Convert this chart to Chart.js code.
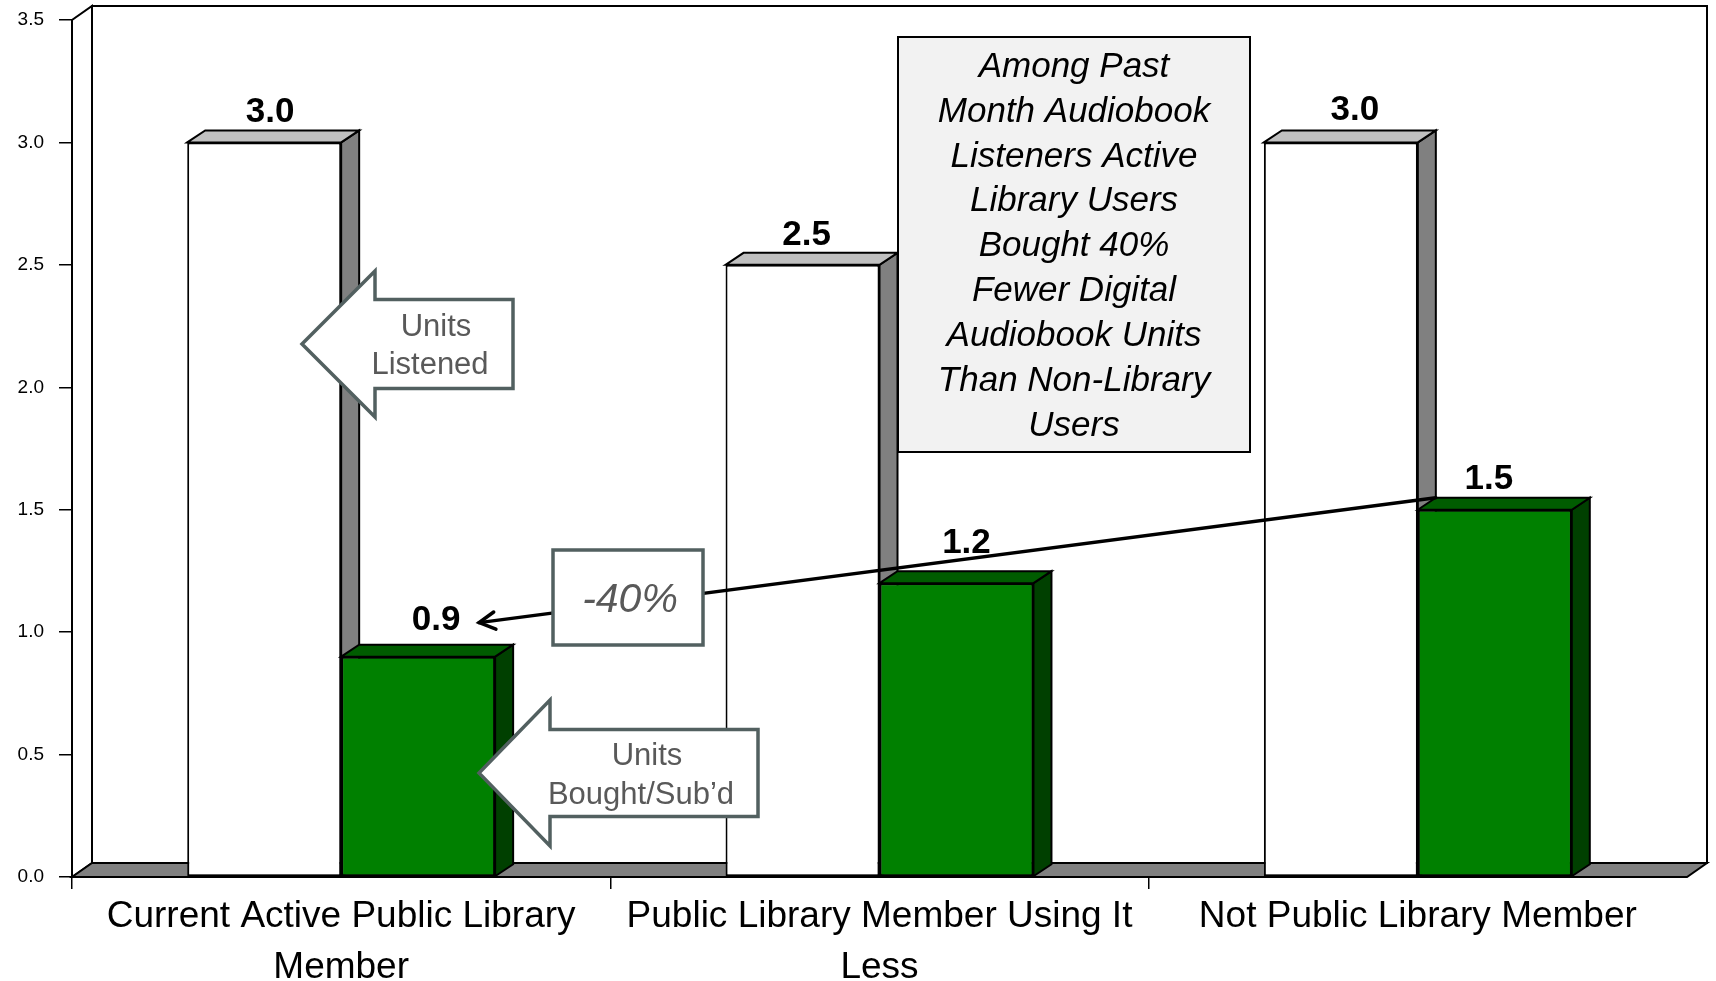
<!DOCTYPE html>
<html><head><meta charset="utf-8">
<script src="https://cdn.jsdelivr.net/npm/chart.js@4.4.1/dist/chart.umd.min.js"></script>
<style>html,body{margin:0;padding:0;overflow:hidden;background:#fff;}canvas{display:block;}</style>
</head><body>
<canvas id="c" width="1716" height="1000"></canvas>
<script>
// ---- data ----
const categories = [['Current Active Public Library', 'Member'], ['Public Library Member Using It', 'Less'], 'Not Public Library Member'];
const seriesNames = ['Units Listened', 'Units Bought/Sub\u2019d'];
const unitsListened = [3.0, 2.5, 3.0];
const unitsBought = [0.9, 1.2, 1.5];
const yTicks = [0, 0.5, 1.0, 1.5, 2.0, 2.5, 3.0, 3.5];
const noteLines = ['Among Past', 'Month Audiobook', 'Listeners Active', 'Library Users', 'Bought 40%', 'Fewer Digital', 'Audiobook Units', 'Than Non-Library', 'Users'];
const changeLabel = '-40%';
const calloutListened = ['Units', 'Listened'];
const calloutBought = ['Units', 'Bought/Sub\u2019d'];

// ---- styles / layout ----
const FONT = '"Liberation Sans", Arial, Helvetica, sans-serif';
const CANVAS_H = 1000;
const PLOT_TOP = 20;
const PLOT_BOTTOM = 877;
const DEPTH = { bx: 18, by: -12, wx: 20, wy: -14 };
const FACE = [
  { front: '#ffffff', side: '#808080', top: '#c0c0c0' },
  { front: '#008000', side: '#004000', top: '#005c00' }
];
const LABEL_NUDGE = [
  [[6, 20], [4, 20], [14, 22]],
  [[18, 27], [10, 30], [-6, 21]]
];
const CALLOUT_COLOR = '#526060';
const CALLOUT_TEXT = '#595959';

function poly(ctx, pts, fill, stroke, lw) {
  ctx.beginPath();
  ctx.moveTo(pts[0][0], pts[0][1]);
  for (let i = 1; i < pts.length; i++) ctx.lineTo(pts[i][0], pts[i][1]);
  ctx.closePath();
  if (fill) { ctx.fillStyle = fill; ctx.fill(); }
  if (stroke) { ctx.strokeStyle = stroke; ctx.lineWidth = lw || 2; ctx.stroke(); }
}

function leftArrow(ctx, tipX, tipY, backX, headHalf, bodyHalf, rightX) {
  poly(ctx, [
    [tipX, tipY], [backX, tipY - headHalf], [backX, tipY - bodyHalf], [rightX, tipY - bodyHalf],
    [rightX, tipY + bodyHalf], [backX, tipY + bodyHalf], [backX, tipY + headHalf]
  ], '#ffffff', CALLOUT_COLOR, 3.5);
}

function drawDepthFaces(ctx, meta, f) {
  const { bx, by } = DEPTH;
  meta.data.forEach(el => {
    const p = el.getProps(['x', 'y', 'base', 'width'], true);
    const l = p.x - p.width / 2, r = p.x + p.width / 2;
    poly(ctx, [[r, p.y], [r + bx, p.y + by], [r + bx, p.base + by], [r, p.base]], f.side, '#000', 2);
    poly(ctx, [[l, p.y], [l + bx, p.y + by], [r + bx, p.y + by], [r, p.y]], f.top, '#000', 2);
  });
}

const threeD = {
  id: 'threeD',
  afterLayout(chart) {
    // pin the plot area to the reference frame
    const ys = chart.scales.y, a = chart.chartArea;
    ys.top = PLOT_TOP;
    ys.bottom = PLOT_BOTTOM;
    ys.height = PLOT_BOTTOM - PLOT_TOP;
    ys.configure();
    a.top = PLOT_TOP;
    a.height = a.bottom - a.top;
  },
  beforeDatasetsDraw(chart) {
    const ctx = chart.ctx, a = chart.chartArea, ys = chart.scales.y;
    const y0 = ys.getPixelForValue(0), yT = ys.getPixelForValue(3.5);
    const { wx, wy } = DEPTH;
    ctx.save();
    ctx.lineJoin = 'miter';
    poly(ctx, [[a.left + wx, yT + wy], [a.right + wx, yT + wy], [a.right + wx, y0 + wy], [a.left + wx, y0 + wy]], '#ffffff', '#000', 2);
    poly(ctx, [[a.left, y0], [a.left, yT], [a.left + wx, yT + wy], [a.left + wx, y0 + wy]], '#ffffff', '#000', 2);
    poly(ctx, [[a.left, y0], [a.left + wx, y0 + wy], [a.right + wx, y0 + wy], [a.right, y0]], '#808080', '#000', 2);
    ctx.restore();
  },
  afterDatasetsDraw(chart) {
    const ctx = chart.ctx;
    const m0 = chart.getDatasetMeta(0), m1 = chart.getDatasetMeta(1);
    ctx.save();
    ctx.lineJoin = 'miter';
    // 3D faces: listened bars first, then re-draw bought bars on top with their faces
    drawDepthFaces(ctx, m0, FACE[0]);
    m1.data.forEach(el => el.draw(ctx, chart.chartArea));
    drawDepthFaces(ctx, m1, FACE[1]);

    // value labels
    ctx.fillStyle = '#000';
    ctx.font = 'bold 35px ' + FONT;
    ctx.textAlign = 'center';
    ctx.textBaseline = 'alphabetic';
    [m0, m1].forEach((m, si) => {
      m.data.forEach((el, i) => {
        const v = chart.data.datasets[si].data[i];
        const n = LABEL_NUDGE[si][i];
        ctx.fillText(v.toFixed(1), el.x + n[0], el.y - n[1]);
      });
    });

    // -40% connector line from last bought bar to first bought bar
    const eEnd = m1.data[2], eStart = m1.data[0];
    const sx = eEnd.x - eEnd.width / 2 + DEPTH.bx, sy = eEnd.y + DEPTH.by;
    const tx = eStart.x + 61, ty = eStart.y - 34;
    ctx.strokeStyle = '#000';
    ctx.lineWidth = 3.5;
    ctx.lineCap = 'round';
    ctx.beginPath(); ctx.moveTo(sx, sy); ctx.lineTo(tx, ty); ctx.stroke();
    const ang = Math.atan2(ty - sy, tx - sx);
    ctx.beginPath();
    ctx.moveTo(tx - 18 * Math.cos(ang - 0.5), ty - 18 * Math.sin(ang - 0.5));
    ctx.lineTo(tx, ty);
    ctx.lineTo(tx - 18 * Math.cos(ang + 0.5), ty - 18 * Math.sin(ang + 0.5));
    ctx.stroke();
    ctx.lineCap = 'butt';

    // -40% box
    ctx.fillStyle = '#ffffff';
    ctx.fillRect(553, 550, 150, 95);
    ctx.strokeStyle = CALLOUT_COLOR; ctx.lineWidth = 3.5;
    ctx.strokeRect(553, 550, 150, 95);
    ctx.fillStyle = CALLOUT_TEXT;
    ctx.font = 'italic 41px ' + FONT;
    ctx.textBaseline = 'middle';
    ctx.fillText(changeLabel, 630, 601);

    // callout arrows
    leftArrow(ctx, 302, 344, 375, 73, 44.5, 513);
    leftArrow(ctx, 479, 773, 550, 73, 43.5, 758);
    ctx.fillStyle = CALLOUT_TEXT;
    ctx.font = '31px ' + FONT;
    ctx.fillText(calloutListened[0], 436, 327);
    ctx.fillText(calloutListened[1], 430, 365);
    ctx.fillText(calloutBought[0], 647, 756);
    ctx.fillText(calloutBought[1], 641, 795);

    // note box
    ctx.fillStyle = '#f2f2f2';
    ctx.fillRect(898, 37, 352, 415);
    ctx.strokeStyle = '#000'; ctx.lineWidth = 2;
    ctx.strokeRect(898, 37, 352, 415);
    ctx.fillStyle = '#000';
    ctx.font = 'italic 35px ' + FONT;
    noteLines.forEach((t, i) => ctx.fillText(t, 1074, 67 + i * 44.9));
    ctx.restore();
  }
};

new Chart(document.getElementById('c'), {
  type: 'bar',
  data: {
    labels: categories,
    datasets: [
      { label: seriesNames[0], data: unitsListened, backgroundColor: FACE[0].front, borderColor: '#000', borderWidth: 2, borderSkipped: false },
      { label: seriesNames[1], data: unitsBought, backgroundColor: FACE[1].front, borderColor: '#000', borderWidth: 2, borderSkipped: false }
    ]
  },
  options: {
    responsive: false,
    animation: false,
    devicePixelRatio: 1,
    categoryPercentage: 0.572,
    barPercentage: 1.0,
    layout: { padding: { top: 20, right: 29, left: 0, bottom: 0 }, autoPadding: false },
    plugins: { legend: { display: false }, tooltip: { enabled: false } },
    scales: {
      x: {
        offset: true,
        grid: { offset: true, drawOnChartArea: false, drawTicks: true, tickLength: 12, lineWidth: 1.5,
                color: c => c.type === 'tick' ? '#000' : 'rgba(0,0,0,0)' },
        border: { display: false },
        ticks: { color: '#000', font: { family: FONT, size: 37, lineHeight: 1.38 }, padding: 2, maxRotation: 0, minRotation: 0, autoSkip: false },
        afterFit: s => { s.height = CANVAS_H - PLOT_BOTTOM; }
      },
      y: {
        min: 0, max: 3.5,
        grid: { drawOnChartArea: false, drawTicks: true, tickLength: 13, lineWidth: 1.5, color: '#000' },
        border: { display: false },
        afterBuildTicks: s => { s.ticks = yTicks.map(v => ({ value: v })); },
        ticks: { color: '#000', font: { family: FONT, size: 19 }, padding: 15, callback: v => Number(v).toFixed(1) },
        afterFit: s => { s.width = 72; }
      }
    }
  },
  plugins: [threeD]
});
</script>
</body></html>
